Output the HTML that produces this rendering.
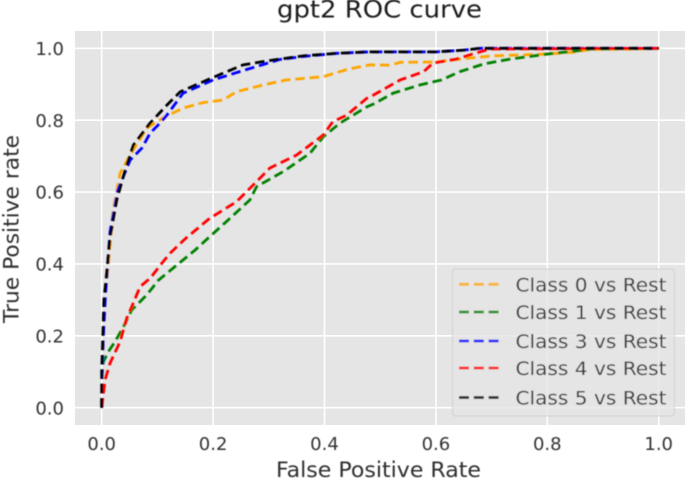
<!DOCTYPE html>
<html>
<head>
<meta charset="utf-8">
<title>gpt2 ROC curve</title>
<style>
html,body{margin:0;padding:0;background:#fff;width:685px;height:479px;overflow:hidden}
svg{display:block;font-family:"DejaVu Sans","Liberation Sans",sans-serif}
</style>
</head>
<body>
<svg id="chart" width="685" height="479" viewBox="0 0 685 479" xmlns="http://www.w3.org/2000/svg">
  <defs>
    <clipPath id="plot-clip"><rect x="75" y="31" width="610" height="394"></rect></clipPath>
    <filter id="soft" x="-5%" y="-5%" width="110%" height="110%"><feGaussianBlur stdDeviation="0.45"></feGaussianBlur></filter>
  </defs>
  <rect x="75" y="31" width="610" height="394" fill="#e5e5e5"></rect>
  <g id="grid"></g>
  <g id="series" clip-path="url(#plot-clip)" filter="url(#soft)"></g>
  <g id="ticks" filter="url(#soft)"></g>
  <text x="277" y="17.5" font-size="24" textLength="205" lengthAdjust="spacingAndGlyphs" fill="#1a1a1a" filter="url(#soft)">gpt2 ROC curve</text>
  <text x="276" y="477" font-size="21" textLength="205" lengthAdjust="spacingAndGlyphs" fill="#2e2e2e" filter="url(#soft)">False Positive Rate</text>
  <text transform="translate(18.5 323) rotate(-90)" font-size="21" textLength="188" lengthAdjust="spacingAndGlyphs" fill="#2e2e2e" filter="url(#soft)">True Positive rate</text>
  <g id="legend" filter="url(#soft)"></g>
</svg>
<script>
var tickValues = [0, 0.2, 0.4, 0.6, 0.8, 1];
var tickLabels = ["0.0", "0.2", "0.4", "0.6", "0.8", "1.0"];
var seriesNames = ["Class 0 vs Rest", "Class 1 vs Rest", "Class 3 vs Rest", "Class 4 vs Rest", "Class 5 vs Rest"];

var class0Fpr = [0, 0.002, 0.005, 0.012, 0.02, 0.033, 0.051, 0.081, 0.114, 0.147, 0.182, 0.218, 0.242, 0.29, 0.332, 0.398, 0.44, 0.482, 0.518, 0.536, 0.601, 0.655, 0.703, 0.8, 0.853, 0.877, 0.96, 1];
var class0Tpr = [0, 0.15, 0.3, 0.4, 0.545, 0.652, 0.703, 0.778, 0.81, 0.834, 0.849, 0.856, 0.879, 0.898, 0.912, 0.921, 0.941, 0.954, 0.953, 0.961, 0.962, 0.972, 0.979, 0.984, 0.99, 0.997, 0.998, 1];

var class1Fpr = [0, 0.001, 0.003, 0.012, 0.024, 0.039, 0.054, 0.081, 0.102, 0.135, 0.168, 0.194, 0.224, 0.266, 0.278, 0.326, 0.374, 0.398, 0.428, 0.476, 0.488, 0.523, 0.571, 0.61, 0.643, 0.685, 0.733, 0.8, 0.853, 0.877, 1];
var class1Tpr = [0, 0.096, 0.128, 0.156, 0.184, 0.225, 0.272, 0.314, 0.355, 0.397, 0.439, 0.476, 0.518, 0.578, 0.615, 0.657, 0.708, 0.754, 0.792, 0.837, 0.845, 0.875, 0.898, 0.912, 0.935, 0.956, 0.97, 0.984, 0.993, 0.998, 1];

var class3Fpr = [0, 0.001, 0.003, 0.007, 0.015, 0.029, 0.051, 0.072, 0.087, 0.101, 0.117, 0.146, 0.2, 0.26, 0.32, 0.36, 0.422, 0.48, 0.6, 0.65, 0.68, 1];
var class3Tpr = [0, 0.11, 0.2, 0.32, 0.49, 0.606, 0.689, 0.722, 0.764, 0.786, 0.814, 0.875, 0.912, 0.941, 0.969, 0.977, 0.986, 0.99, 0.99, 0.995, 1, 1];

var class4Fpr = [0, 0.006, 0.015, 0.033, 0.045, 0.054, 0.069, 0.087, 0.108, 0.123, 0.15, 0.194, 0.242, 0.278, 0.302, 0.35, 0.398, 0.415, 0.44, 0.476, 0.488, 0.536, 0.578, 0.595, 0.637, 0.679, 0.697, 1];
var class4Tpr = [0, 0.077, 0.124, 0.184, 0.249, 0.281, 0.337, 0.36, 0.402, 0.43, 0.47, 0.527, 0.573, 0.629, 0.667, 0.703, 0.759, 0.796, 0.814, 0.861, 0.87, 0.912, 0.935, 0.959, 0.97, 0.99, 0.998, 1];

var class5Fpr = [0, 0, 0.002, 0.004, 0.01, 0.015, 0.027, 0.042, 0.057, 0.087, 0.117, 0.141, 0.2, 0.254, 0.302, 0.362, 0.422, 0.48, 0.6, 0.65, 0.68, 1];
var class5Tpr = [0, 0.1, 0.2, 0.3, 0.39, 0.476, 0.578, 0.661, 0.731, 0.792, 0.842, 0.879, 0.919, 0.954, 0.966, 0.979, 0.986, 0.99, 0.99, 0.995, 1, 1];

var svgNS = "http://www.w3.org/2000/svg";
function xScale(v) { return 101.7 + v * 557; }
function yScale(v) { return 407.7 - v * 359.4; }
function make(tag, attrs, parent) {
  var el = document.createElementNS(svgNS, tag);
  for (var k in attrs) { el.setAttribute(k, attrs[k]); }
  parent.appendChild(el);
  return el;
}
var grid = document.getElementById("grid");
var ticks = document.getElementById("ticks");
tickValues.forEach(function (v, i) {
  var gx = make("line", { x1: xScale(v), x2: xScale(v), y1: 31, y2: 425, stroke: "#fff", "stroke-width": 1.6 }, grid);
  
  
  var gy = make("line", { x1: 75, x2: 685, y1: yScale(v), y2: yScale(v), stroke: "#fff", "stroke-width": 1.6 }, grid);
  
  
  var tx = make("text", { x: xScale(v), y: 450, "text-anchor": "middle", "font-size": 18, fill: "#333" }, ticks);
  tx.textContent = tickLabels[i];
  
  
  var ty = make("text", { x: 64, y: yScale(v) + 6.6, "text-anchor": "end", "font-size": 18, fill: "#333" }, ticks);
  ty.textContent = tickLabels[i];
  
  
});

var seriesColors = ["orange", "green", "blue", "red", "black"];
var seriesFpr = [class0Fpr, class1Fpr, class3Fpr, class4Fpr, class5Fpr];
var seriesTpr = [class0Tpr, class1Tpr, class3Tpr, class4Tpr, class5Tpr];
var seriesGroup = document.getElementById("series");
var dash = "9.5 4.9";
seriesFpr.forEach(function (fpr, s) {
  var d = fpr.map(function (x, i) {
    return (i ? "L" : "M") + xScale(x).toFixed(2) + " " + yScale(seriesTpr[s][i]).toFixed(2);
  }).join(" ");
  var p = make("path", { d: d, fill: "none", stroke: seriesColors[s], "stroke-width": 2.8, "stroke-dasharray": dash }, seriesGroup);
  
  
});

var legend = document.getElementById("legend");
var box = make("rect", { x: 452.5, y: 269, width: 222, height: 147, rx: 3, fill: "#e5e5e5", "fill-opacity": 0.8, stroke: "#ccc", "stroke-opacity": 0.8, "stroke-width": 1 }, legend);


var legendRows = [284.3, 312, 341, 368, 397.5];
seriesNames.forEach(function (name, i) {
  var ln = make("line", { x1: 459, x2: 499, y1: legendRows[i], y2: legendRows[i], stroke: seriesColors[i], "stroke-opacity": 0.8, "stroke-width": 2.8, "stroke-dasharray": "10 4.8" }, legend);
  
  
  var t = make("text", { x: 515.5, y: legendRows[i] + 7, "font-size": 19, textLength: 151, lengthAdjust: "spacingAndGlyphs", fill: "#3c3c3c" }, legend);
  t.textContent = name;
  
  
});
</script>
</body>
</html>
